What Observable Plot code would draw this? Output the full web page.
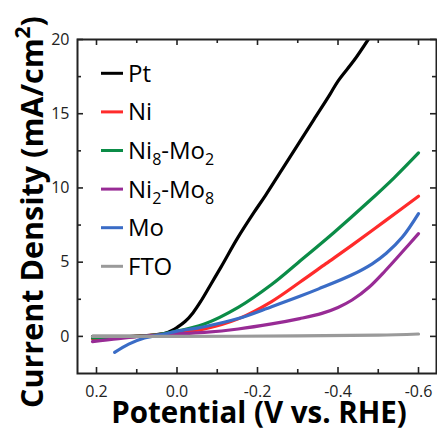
<!DOCTYPE html>
<html><head><meta charset="utf-8">
<script src="https://cdn.jsdelivr.net/npm/d3@7"></script>
<script src="https://cdn.jsdelivr.net/npm/@observablehq/plot@0.6"></script>
<style>html,body{margin:0;padding:0;background:#fff;} #chart{width:437px;height:429px;overflow:hidden;}</style>
</head><body><div id="chart"></div>
<script>
// ---- data ----
const seriesNames  = ["Pt", "Ni", "Ni8-Mo2", "Ni2-Mo8", "Mo", "FTO"];
const seriesColors = ["#000000", "#ff2b2b", "#0b8c47", "#982b95", "#3a6cc6", "#9a9a9a"];

const ptV = [0.21, 0.15, 0.10, 0.06, 0.03, 0.015, 0.0, -0.02, -0.04, -0.06, -0.085, -0.11, -0.15, -0.19, -0.22, -0.26, -0.30, -0.34, -0.38, -0.40, -0.44, -0.475];
const ptJ = [0.0, 0.0, 0.02, 0.08, 0.2, 0.36, 0.6, 1.0, 1.6, 2.4, 3.55, 4.7, 6.6, 8.3, 9.5, 11.2, 12.9, 14.6, 16.3, 17.2, 18.6, 20.0];

const niV = [0.21, 0.10, 0.05, 0.0, -0.068, -0.152, -0.235, -0.305, -0.37, -0.435, -0.518, -0.60];
const niJ = [-0.15, 0.0, 0.1, 0.25, 0.5, 1.18, 2.35, 3.65, 4.9, 6.15, 7.8, 9.44];

const ni8V = [0.21, 0.10, 0.05, 0.015, -0.068, -0.152, -0.235, -0.30, -0.39, -0.477, -0.54, -0.60];
const ni8J = [-0.1, 0.0, 0.1, 0.27, 0.84, 1.96, 3.5, 4.95, 7.0, 9.1, 10.7, 12.36];

const ni2V = [0.21, 0.145, 0.04, -0.068, -0.152, -0.235, -0.305, -0.36, -0.40, -0.435, -0.477, -0.518, -0.56, -0.60];
const ni2J = [-0.35, -0.15, 0.11, 0.27, 0.5, 0.84, 1.2, 1.55, 1.95, 2.45, 3.31, 4.44, 5.7, 6.92];

const moV = [0.155, 0.12, 0.081, 0.031, 0.0, -0.05, -0.068, -0.152, -0.235, -0.305, -0.352, -0.435, -0.485, -0.52, -0.56, -0.60];
const moJ = [-1.08, -0.52, -0.11, 0.16, 0.35, 0.56, 0.65, 1.2, 2.0, 2.7, 3.2, 4.15, 4.89, 5.6, 6.69, 8.27];

const ftoV = [0.21, 0.0, -0.3, -0.5, -0.60];
const ftoJ = [0.0, 0.0, 0.03, 0.08, 0.16];

const seriesV = [ptV, niV, ni8V, ni2V, moV, ftoV];
const seriesJ = [ptJ, niJ, ni8J, ni2J, moJ, ftoJ];

const xMajor = [0.2, 0.0, -0.2, -0.4, -0.6];
const xMinor = [0.1, -0.1, -0.3, -0.5];
const yMajor = [0, 5, 10, 15, 20];
const yMinor = [2.5, 7.5, 12.5, 17.5];

const xTitle = "Potential (V vs. RHE)";
const yTitle = "Current Density (mA/cm";

// ---- layout ----
const W = 437, H = 429, mL = 77, mR = 1, mT = 39, mB = 56;
const pw = W - mL - mR, ph = H - mT - mB;

const rows = seriesNames.flatMap((name, i) =>
  seriesV[i].map((v, k) => ({series: name, V: v, J: seriesJ[i][k]})));

const tickStyle = {stroke: "#222", strokeWidth: 1.6};
const chart = Plot.plot({
  width: W, height: H,
  marginLeft: mL, marginRight: mR, marginTop: mT, marginBottom: mB,
  style: {fontFamily: "'Open Sans', sans-serif", fontSize: "16px", color: "#222", background: "#fff"},
  x: {domain: [0.2472, -0.6447], axis: null},
  y: {domain: [-2.5, 20], axis: null},
  color: {domain: seriesNames, range: seriesColors},
  marks: [
    ...seriesNames.map((name) =>
      Plot.line(rows.filter(d => d.series === name), {x: "V", y: "J", stroke: "series", strokeWidth: 3.2, curve: "catmull-rom", clip: true})),
    Plot.tickX(xMajor, {x: d => d, insetTop: ph - 6, ...tickStyle}),
    Plot.tickX(xMajor, {x: d => d, insetBottom: ph - 6, ...tickStyle}),
    Plot.tickX(xMinor, {x: d => d, insetTop: ph - 4, ...tickStyle}),
    Plot.tickX(xMinor, {x: d => d, insetBottom: ph - 4, ...tickStyle}),
    Plot.tickY(yMajor, {y: d => d, insetRight: pw - 6, ...tickStyle}),
    Plot.tickY(yMajor, {y: d => d, insetLeft: pw - 6, ...tickStyle}),
    Plot.tickY(yMinor, {y: d => d, insetRight: pw - 4, ...tickStyle}),
    Plot.tickY(yMinor, {y: d => d, insetLeft: pw - 4, ...tickStyle}),
    Plot.axisX(xMajor, {anchor: "bottom", tickSize: 0, tickPadding: 12, tickFormat: d => d.toFixed(1), label: null, fontSize: 16, fill: "#222"}),
    Plot.axisY(yMajor, {anchor: "left", tickSize: 0, tickPadding: 8, tickFormat: d => String(d), label: null, fontSize: 16, fill: "#222"}),
    Plot.frame({stroke: "#222", strokeWidth: 2})
  ]
});
document.getElementById("chart").appendChild(chart);

// ---- titles and legend ----
const svg = d3.select(chart);
svg.append("text")
  .attr("x", 259).attr("y", 423)
  .attr("text-anchor", "middle")
  .style("font-family", "'Open Sans', sans-serif").style("font-weight", "700").style("font-size", "29.5px")
  .attr("fill", "#000").text(xTitle);

const yt = svg.append("text")
  .attr("transform", "translate(43,212) rotate(-90)")
  .attr("text-anchor", "middle")
  .style("font-family", "'Open Sans', sans-serif").style("font-weight", "700").style("font-size", "30.5px")
  .attr("fill", "#000");
yt.append("tspan").text(yTitle);
yt.append("tspan").attr("dy", -13).style("font-size", "21px").text("2");
yt.append("tspan").attr("dy", 13).text(")");

const lg = svg.append("g").attr("text-anchor", "start")
  .style("font-family", "'Open Sans', sans-serif").style("font-size", "24px");
seriesNames.forEach((name, i) => {
  const y = 73.3 + i * 38.6;
  lg.append("line").attr("x1", 101).attr("x2", 123).attr("y1", y).attr("y2", y)
    .attr("stroke", seriesColors[i]).attr("stroke-width", 3);
  const t = lg.append("text").attr("x", 128).attr("y", y + 8.5).attr("text-anchor", "start").attr("fill", "#000");
  const parts = name.match(/\d+|\D+/g);
  let sub = false;
  parts.forEach(p => {
    const isDigit = /^\d+$/.test(p);
    const ts = t.append("tspan").text(p);
    if (isDigit && !sub) { ts.attr("dy", 6).style("font-size", "16px"); sub = true; }
    else if (!isDigit && sub) { ts.attr("dy", -6); sub = false; }
  });
});
</script>
</body></html>
